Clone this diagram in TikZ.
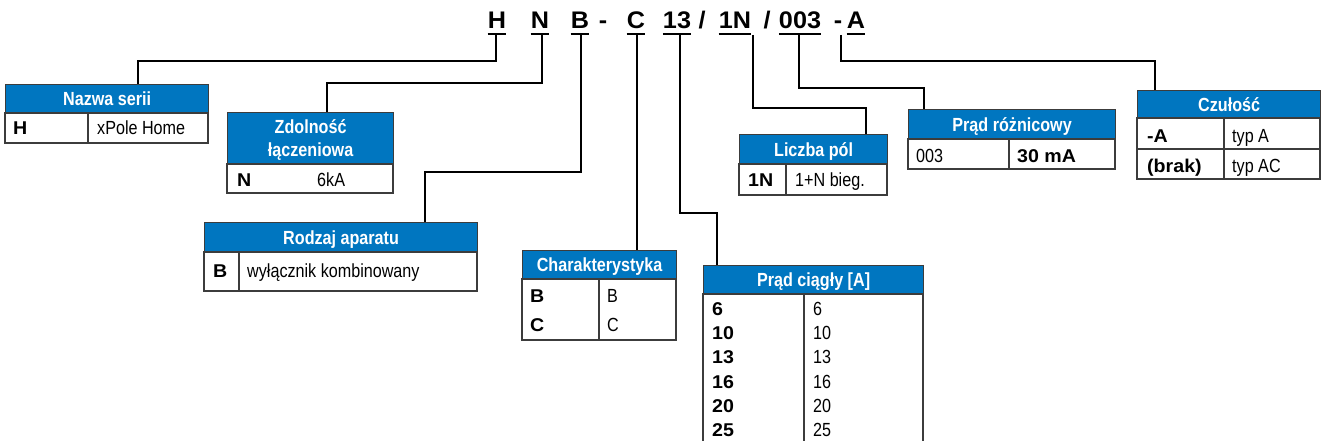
\documentclass[tikz,border=0pt]{standalone}
\usepackage{fontspec}
\setmainfont{Liberation Sans}
\newfontfamily\condfont[FakeStretch=0.85]{Liberation Sans}
\newfontfamily\widefont[FakeStretch=1.06]{Liberation Sans}
\newfontfamily\titlefont[FakeStretch=1.05]{Liberation Sans}
\definecolor{hdrblue}{RGB}{0,118,192}
\definecolor{bordergray}{RGB}{60,60,60}
\tikzset{
  hdr/.style={draw=bordergray, line width=1.2pt, fill=hdrblue, text=white,
    font=\condfont\bfseries\fontsize{19}{23}\selectfont, inner sep=0pt,
    anchor=north west, text height=13.5pt, text depth=0pt},
  cell/.style={draw=bordergray, line width=1.2pt},
  val/.style={anchor=base west, inner sep=0pt, font=\condfont\fontsize{19}{21}\selectfont},
  key/.style={anchor=base west, inner sep=0pt, font=\widefont\bfseries\fontsize{18.5}{21}\selectfont},
  code/.style={anchor=base, inner sep=0pt, font=\titlefont\bfseries\fontsize{24}{27}\selectfont},
  uline/.style={line width=2pt, black},
  conn/.style={line width=1.4pt, black}
}
\begin{document}
\begin{tikzpicture}[x=1pt, y=-1pt]
\useasboundingbox (0,0) rectangle (1321,441);

% ---- order code ----
\node[code] (cH)   at (497,29) {H};
\node[code] (cN)   at (540,29) {N};
\node[code] (cB)   at (580,29) {B};
\node[code] (d1)   at (603,29) {-};
\node[code] (cC)   at (636,29) {C};
\node[code] (c13)  at (677,29) {13};
\node[code] (s1)   at (702,29) {/};
\node[code] (c1N)  at (735,29) {1N};
\node[code] (s2)   at (767,29) {/};
\node[code] (c003) at (800,29) {003};
\node[code] (d2)   at (838,29) {-};
\node[code] (cA)   at (856,29) {A};
\foreach \n in {cH,cN,cB,cC,c13,c1N,c003,cA}
  \draw[uline] ([yshift=-5.5pt]\n.base west) -- ([yshift=-5.5pt]\n.base east);

% ---- Nazwa serii ----
\node[hdr, minimum width=203pt, minimum height=29pt] (hNazwa) at (5,84) {Nazwa serii};
\draw[cell] (5,113) rectangle (208,143) (88,113) -- (88,143);
\node[key] (kNazwa) at (13,135) {H};
\node[val] (vNazwa) at (97,135) {xPole Home};

% ---- Zdolnosc laczeniowa ----
\node[hdr, minimum width=166pt, minimum height=52pt, align=center,
      text height=36pt, text depth=0pt] (hZdol) at (227,112) {Zdolność\\łączeniowa};
\draw[cell] (227,164) rectangle (393,193);
\node[key] (kZdol) at (237,186) {N};
\node[val] (vZdol) at (317,186) {6kA};

% ---- Rodzaj aparatu ----
\node[hdr, minimum width=273pt, minimum height=30pt] (hRodz) at (204,222) {Rodzaj aparatu};
\draw[cell] (204,252) rectangle (477,291) (239,252) -- (239,291);
\node[key] (kRodz) at (213,277) {B};
\node[val] (vRodz) at (247,277) {wyłącznik kombinowany};

% ---- Charakterystyka ----
\node[hdr, minimum width=154pt, minimum height=29pt] (hChar) at (522,250) {Charakterystyka};
\draw[cell] (522,279) rectangle (676,340) (599,279) -- (599,340);
\node[key] (kCharB) at (530,302) {B};
\node[val] (vCharB) at (607,302) {B};
\node[key] (kCharC) at (530,331) {C};
\node[val] (vCharC) at (607,331) {C};

% ---- Prad ciagly ----
\node[hdr, minimum width=220pt, minimum height=29pt] (hPrad) at (703,265) {Prąd ciągły [A]};
\draw[cell] (703,442) -- (703,294) -- (923,294) -- (923,442) (804,294) -- (804,442);
\foreach \v/\y in {6/315,10/339,13/363,16/388,20/412,25/436} {
  \node[key] (kPrad\v) at (712,\y) {\v};
  \node[val] (vPrad\v) at (813,\y) {\v};
}

% ---- Liczba pol ----
\node[hdr, minimum width=148pt, minimum height=30pt] (hLicz) at (739,134) {Liczba pól};
\draw[cell] (739,164) rectangle (887,195) (786,164) -- (786,195);
\node[key] (kLicz) at (748,186) {1N};
\node[val] (vLicz) at (795,186) {1+N bieg.};

% ---- Prad roznicowy ----
\node[hdr, minimum width=207pt, minimum height=30pt] (hRozn) at (908,109) {Prąd różnicowy};
\draw[cell] (908,139) rectangle (1115,169) (1009,139) -- (1009,169);
\node[val] (vRozn) at (916,162) {003};
\node[key] (kRozn) at (1017,162) {30 mA};

% ---- Czulosc ----
\node[hdr, minimum width=183pt, minimum height=28pt] (hCzul) at (1137,90) {Czułość};
\draw[cell] (1137,118) rectangle (1320,179) (1224,118) -- (1224,179) (1137,149) -- (1320,149);
\node[key] (kCzulA) at (1147,142) {-A};
\node[val] (vCzulA) at (1232,142) {typ A};
\node[key] (kCzulB) at (1147,172) {(brak)};
\node[val] (vCzulB) at (1232,172) {typ AC};

% ---- connectors ----
\coordinate (sH)   at (496,35);   \coordinate (bH)   at (138,61);
\coordinate (sN)   at (542,35);   \coordinate (bN)   at (327,83);
\coordinate (sB)   at (581,35);   \coordinate (bB)   at (425,172);
\coordinate (sC)   at (637,35);
\coordinate (s13)  at (680,35);   \coordinate (b13)  at (717,213);
\coordinate (s1N)  at (753,35);   \coordinate (b1N)  at (866,108);
\coordinate (s003) at (799,35);   \coordinate (b003) at (924,88);
\coordinate (sA)   at (841,35);   \coordinate (bA)   at (1155,61);

\draw[conn] (sH)   |- (bH)   -- (bH |- hNazwa.north);
\draw[conn] (sN)   |- (bN)   -- (bN |- hZdol.north);
\draw[conn] (sB)   |- (bB)   -- (bB |- hRodz.north);
\draw[conn] (sC)   -- (sC |- hChar.north);
\draw[conn] (s13)  |- (b13)  -- (b13 |- hPrad.north);
\draw[conn] (s1N)  |- (b1N)  -- (b1N |- hLicz.north);
\draw[conn] (s003) |- (b003) -- (b003 |- hRozn.north);
\draw[conn] (sA)   |- (bA)   -- (bA |- hCzul.north);
\end{tikzpicture}
\end{document}
